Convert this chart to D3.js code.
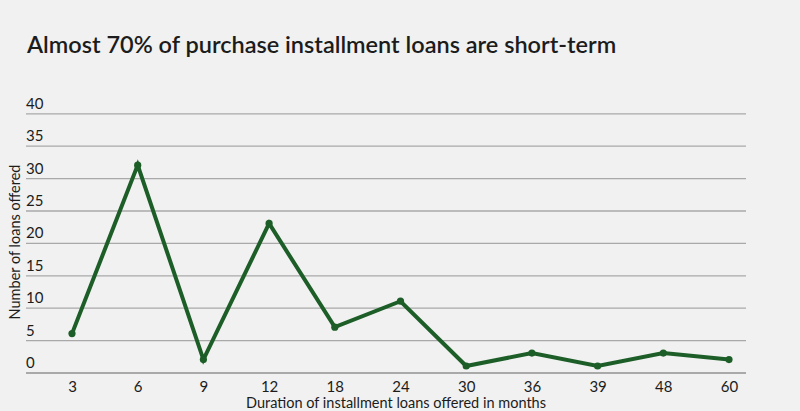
<!DOCTYPE html>
<html><head><meta charset="utf-8">
<script src="https://cdn.jsdelivr.net/npm/d3@7"></script>
<style>
html,body{margin:0;padding:0;background:#f0f1f0;}
svg{display:block;}
text{font-family:"Lato","Noto Sans",sans-serif;fill:#1c1c1c;}
</style></head>
<body><svg id="c" width="800" height="411"></svg>
<script>
const categories = ["3","6","9","12","18","24","30","36","39","48","60"];
const values = [6,32,2,23,7,11,1,3,1,3,2];
const yTicks = [0,5,10,15,20,25,30,35,40];
const title = "Almost 70% of purchase installment loans are short-term";
const xTitle = "Duration of installment loans offered in months";
const yTitle = "Number of loans offered";

const svg = d3.select("#c");
svg.append("rect").attr("width",800).attr("height",411).attr("fill","#f0f1f0");

const x = d3.scalePoint().domain(categories).range([72,729]);
const y = d3.scaleLinear().domain([0,40]).range([372.5,113.3]);
const gridL = 26, gridR = 746;

svg.append("text").attr("x",27).attr("y",53).attr("font-size",23.5).attr("font-weight",600)
  .attr("fill","#151515").text(title);

// grid lines
const gy = svg.append("g").attr("transform",`translate(${gridR},0)`).call(d3.axisRight(y).tickValues(yTicks).tickSize(-(gridR-gridL)).tickFormat(""));
gy.select(".domain").remove();
gy.selectAll(".tick line").attr("stroke","#a9a9a9").attr("stroke-width",d=>d===0?2:1.3);

// y labels
const gl = svg.append("g").attr("transform",`translate(${gridL},0)`).call(d3.axisRight(y).tickValues(yTicks).tickSize(0).tickPadding(0).tickFormat(d3.format("d")));
gl.select(".domain").remove();
gl.selectAll(".tick text").attr("dy",-5).attr("font-size",15).attr("font-family","Lato, 'Noto Sans', sans-serif").attr("fill","#1c1c1c");

// x axis labels
const gx = svg.append("g").attr("transform","translate(0,386.5)").call(d3.axisBottom(x).tickSize(0).tickPadding(0));
gx.select(".domain").remove();
gx.selectAll(".tick text").attr("dy","0.35em").attr("font-size",15).attr("font-family","Lato, 'Noto Sans', sans-serif").attr("fill","#1c1c1c");

svg.append("text").attr("x",396).attr("y",408).attr("text-anchor","middle").attr("font-size",14.5).text(xTitle);
svg.append("text").attr("transform","translate(20,242) rotate(-90)").attr("text-anchor","middle").attr("font-size",14.5).text(yTitle);

const line = d3.line().x((d,i)=>x(categories[i])).y(d=>y(d));
svg.append("path").datum(values).attr("d",line).attr("fill","none").attr("stroke","#1d5e28")
  .attr("stroke-width",4).attr("stroke-linejoin","miter").attr("stroke-miterlimit",4);
svg.selectAll("circle.pt").data(values).enter().append("circle").attr("class","pt")
  .attr("cx",(d,i)=>x(categories[i])).attr("cy",d=>y(d)).attr("r",3.6).attr("fill","#1d5e28");
</script></body></html>
